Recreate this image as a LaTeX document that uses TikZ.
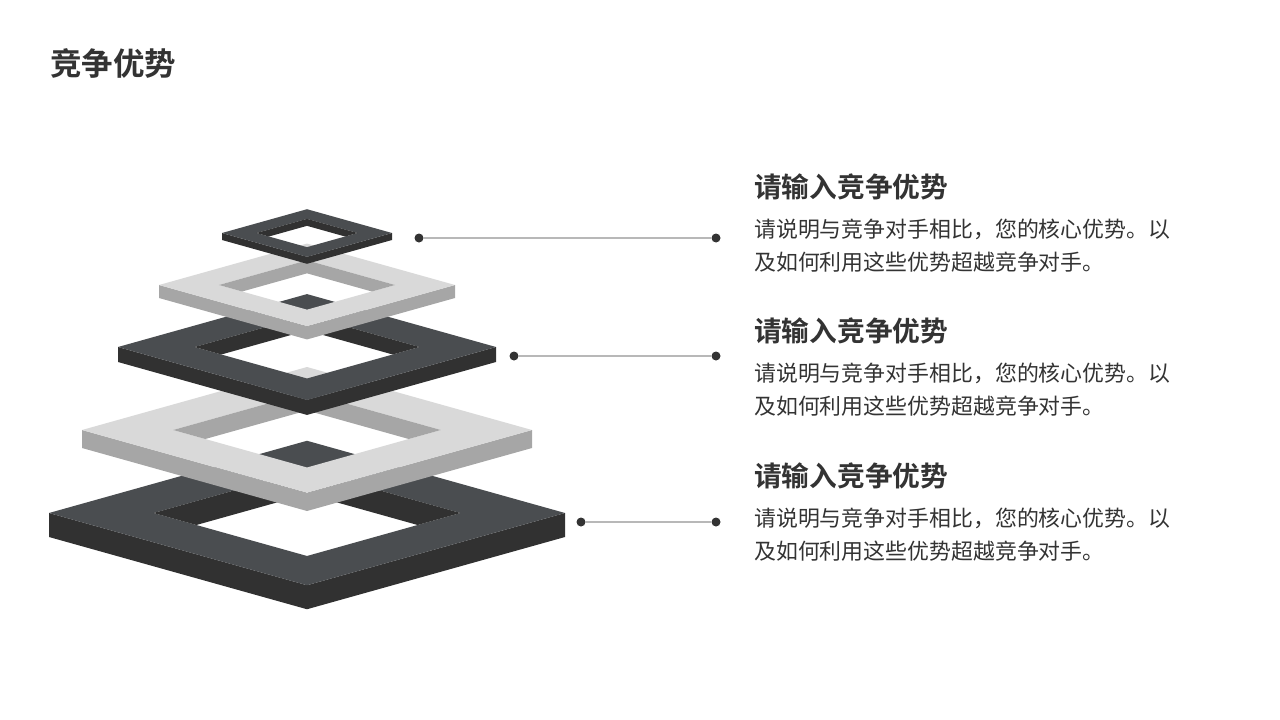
\documentclass[tikz,border=0pt]{standalone}
\usepackage{fontspec}
\setmainfont{Noto Sans CJK SC}
\newfontfamily\cjkb{Noto Sans CJK SC Bold}
\definecolor{dtop}{HTML}{4A4D50}
\definecolor{dside}{HTML}{313131}
\definecolor{ltop}{HTML}{D9D9D9}
\definecolor{lside}{HTML}{A6A6A6}
\definecolor{txt}{HTML}{333333}
\newcommand\pyrlayer[5]{%
\pgfmathsetmacro\lyhh{0.28*#2}\pgfmathsetmacro\lyiw{0.595*#2}\pgfmathsetmacro\lyih{0.28*0.595*#2}%
\fill[#5] (307-#2,#1) -- (307,#1+\lyhh) -- (307+#2,#1) -- (307+#2,#1+#3) -- (307,#1+\lyhh+#3) -- (307-#2,#1+#3) -- cycle;
\fill[#4,even odd rule] (307-#2,#1)--(307,#1-\lyhh)--(307+#2,#1)--(307,#1+\lyhh)--cycle (307-\lyiw,#1)--(307,#1-\lyih)--(307+\lyiw,#1)--(307,#1+\lyih)--cycle;
\begin{scope}
\clip (307-\lyiw,#1)--(307,#1-\lyih)--(307+\lyiw,#1)--(307,#1+\lyih)--cycle;
\fill[#5] (307-\lyiw,#1)--(307,#1-\lyih)--(307+\lyiw,#1)--(307+\lyiw,#1+#3)--(307,#1-\lyih+#3)--(307-\lyiw,#1+#3)--cycle;
\end{scope}}
\tikzset{
  dotn/.style={circle,fill=txt,inner sep=0pt,minimum size=9pt},
  head/.style={anchor=west,text=txt,font=\cjkb\fontsize{27.7}{30}\selectfont,inner sep=0pt},
  body/.style={anchor=north west,text=txt,align=left,font=\fontsize{21.9}{33}\selectfont,inner sep=0pt},
  conn/.style={draw=black!28,line width=1.2pt}
}
\begin{document}
\begin{tikzpicture}[x=1pt,y=-1pt]
\useasboundingbox (0,0) rectangle (1280,720);
\node[anchor=west,text=txt,font=\cjkb\fontsize{31.5}{34}\selectfont,inner sep=0pt] (title) at (50,63) {竞争优势};
\pyrlayer{513}{258}{24}{dtop}{dside}
\pyrlayer{430}{225}{18}{ltop}{lside}
\pyrlayer{347}{189}{15}{dtop}{dside}
\pyrlayer{285}{148}{13}{ltop}{lside}
\pyrlayer{233}{85}{7}{dtop}{dside}
\node[dotn] (a1) at (419,238) {};
\node[dotn] (b1) at (716,238) {};
\node[dotn] (a2) at (514,356) {};
\node[dotn] (b2) at (716,356) {};
\node[dotn] (a3) at (581,522) {};
\node[dotn] (b3) at (716,522) {};
\draw[conn] (a1) -- (b1);
\draw[conn] (a2) -- (b2);
\draw[conn] (a3) -- (b3);
\node[head] (h1) at (754,187) {请输入竞争优势};
\node[body] (t1) at (754,219) {请说明与竞争对手相比，您的核心优势。以\\及如何利用这些优势超越竞争对手。};
\node[head] (h2) at (754,331) {请输入竞争优势};
\node[body] (t2) at (754,363) {请说明与竞争对手相比，您的核心优势。以\\及如何利用这些优势超越竞争对手。};
\node[head] (h3) at (754,476) {请输入竞争优势};
\node[body] (t3) at (754,508) {请说明与竞争对手相比，您的核心优势。以\\及如何利用这些优势超越竞争对手。};
\end{tikzpicture}
\end{document}
